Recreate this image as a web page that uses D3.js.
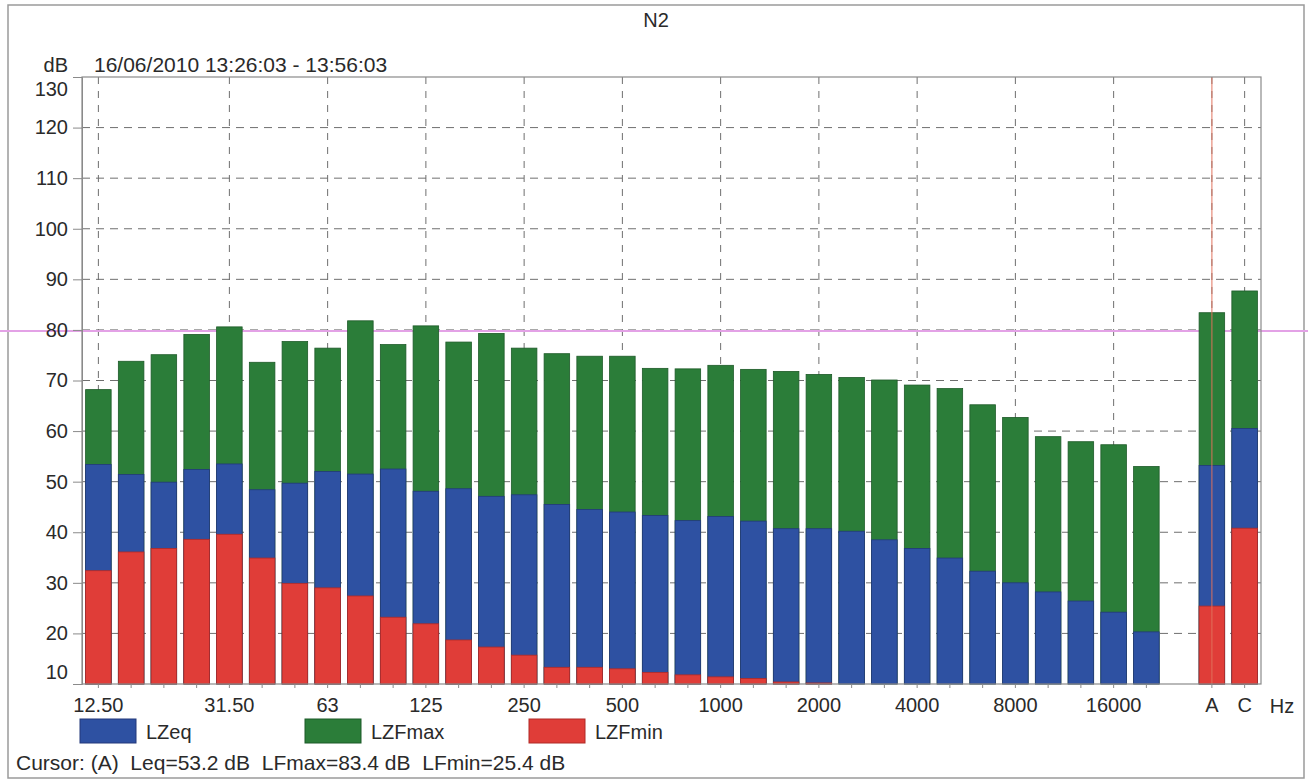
<!DOCTYPE html>
<html><head><meta charset="utf-8">
<script src="https://cdn.jsdelivr.net/npm/d3@7"></script>
<style>
html,body{margin:0;padding:0;background:#fff;}
svg{display:block;font-family:"Liberation Sans",Arial,Helvetica,sans-serif;}
</style></head><body>
<svg id="chart" width="1308" height="782"></svg>
<script>
// ---- data ----
const bands = ["12.5","16","20","25","31.5","40","50","63","80","100","125","160","200","250","315","400","500","630","800","1000","1250","1600","2000","2500","3150","4000","5000","6300","8000","10000","12500","16000","20000","","A","C"];
const lzfmax = [68.2,73.8,75.1,79.1,80.6,73.6,77.7,76.4,81.8,77.1,80.8,77.6,79.3,76.4,75.3,74.8,74.8,72.4,72.3,73.0,72.2,71.8,71.2,70.6,70.1,69.1,68.4,65.2,62.7,58.9,57.9,57.3,53.0,null,83.4,87.7];
const lzeq   = [53.4,51.4,49.9,52.4,53.5,48.4,49.7,52.0,51.5,52.5,48.1,48.6,47.1,47.4,45.5,44.5,44.0,43.3,42.3,43.1,42.2,40.7,40.7,40.2,38.5,36.8,34.9,32.3,30.0,28.2,26.4,24.2,20.3,null,53.2,60.5];
const lzfmin = [32.4,36.1,36.8,38.6,39.6,34.9,29.9,29.0,27.4,23.2,21.9,18.7,17.3,15.7,13.3,13.3,13.0,12.3,11.8,11.4,11.1,10.4,10.2,null,null,null,null,null,null,null,null,null,null,null,25.4,40.8];
const labeledBands = ["12.5","31.5","63","125","250","500","1000","2000","4000","8000","16000","A","C"];
const labelTexts   = ["12.50","31.50","63","125","250","500","1000","2000","4000","8000","16000","A","C"];
const yTicks = [10,20,30,40,50,60,70,80,90,100,110,120,130];
const seriesNames = ["LZeq","LZFmax","LZFmin"];
const seriesColors = ["#2e51a2","#2b7d39","#e03d38"];
const seriesStrokes = ["#22397a","#1d5a28","#b02a26"];
const refLevel = 80;
const cursorBand = "A";
const title = "N2";
const dateText = "16/06/2010 13:26:03 - 13:56:03";
const cursorText = "Cursor: (A)\u00a0\u00a0Leq=53.2 dB\u00a0\u00a0LFmax=83.4 dB\u00a0\u00a0LFmin=25.4 dB";

// ---- layout ----
const W = 1308, H = 782;
const L = 82, R = 1261, T = 77, B = 684;
const textColor = "#2a2a2a";
const svg = d3.select("#chart");

const x = d3.scaleBand().domain(bands).range([L, R]).paddingInner(0.22).paddingOuter(0.11);
const y = d3.scaleLinear().domain([10, 130]).range([B, T]);
const cx = b => x(b) + x.bandwidth() / 2;

// outer frame
svg.append("rect").attr("x", 8).attr("y", 5).attr("width", 1296).attr("height", 773)
  .attr("fill", "none").attr("stroke", "#9a9a9a").attr("stroke-width", 1.5);

// horizontal dashed grid
svg.append("g").selectAll("line").data(yTicks.filter(v => v > 10 && v < 130)).join("line")
  .attr("x1", L).attr("x2", R).attr("y1", d => y(d)).attr("y2", d => y(d))
  .attr("stroke", "#6f6f6f").attr("stroke-width", 1).attr("stroke-dasharray", "8,6");

// vertical dashed grid
svg.append("g").selectAll("line").data(labeledBands).join("line")
  .attr("x1", d => cx(d)).attr("x2", d => cx(d)).attr("y1", T).attr("y2", B)
  .attr("stroke", "#6f6f6f").attr("stroke-width", 1).attr("stroke-dasharray", "7,7");

// reference (pink) line across the page
svg.append("line").attr("x1", 0).attr("x2", W).attr("y1", y(refLevel) + 1).attr("y2", y(refLevel) + 1)
  .attr("stroke", "#e3a2e6").attr("stroke-width", 2);

// bars: max (green), eq (blue), min (red) overlaid from baseline
const layers = [
  {vals: lzfmax, fill: seriesColors[1], stroke: seriesStrokes[1]},
  {vals: lzeq,   fill: seriesColors[0], stroke: seriesStrokes[0]},
  {vals: lzfmin, fill: seriesColors[2], stroke: seriesStrokes[2]}
];
layers.forEach(layer => {
  const data = bands.map((b, i) => ({b, v: layer.vals[i]})).filter(d => d.v != null && d.v > 10);
  svg.append("g").selectAll("rect").data(data).join("rect")
    .attr("x", d => x(d.b)).attr("width", x.bandwidth())
    .attr("y", d => y(d.v)).attr("height", d => y(10) - y(d.v))
    .attr("fill", layer.fill).attr("stroke", layer.stroke).attr("stroke-width", 0.8);
});

// cursor line
svg.append("line").attr("x1", cx(cursorBand)).attr("x2", cx(cursorBand)).attr("y1", T).attr("y2", B)
  .attr("stroke", "#e2725c").attr("stroke-width", 1.3).attr("opacity", 0.75);

// plot frame
svg.append("rect").attr("x", L).attr("y", T).attr("width", R - L).attr("height", B - T)
  .attr("fill", "none").attr("stroke", "#8a8a8a").attr("stroke-width", 1.2);

// y axis
const yAxis = svg.append("g").attr("transform", `translate(${L},0)`)
  .call(d3.axisLeft(y).tickValues(yTicks).tickSize(9).tickPadding(5).tickFormat(d3.format("d")));
yAxis.select(".domain").attr("stroke", "#8a8a8a");
yAxis.selectAll(".tick line").attr("stroke", "#8a8a8a");
yAxis.selectAll(".tick text").attr("font-size", 20).attr("fill", textColor)
  .attr("font-family", "Liberation Sans, Arial, sans-serif")
  .attr("transform", d => d === 130 ? "translate(0,12)" : d === 10 ? "translate(0,-12)" : null);

// x axis
const labelMap = new Map(labeledBands.map((b, i) => [b, labelTexts[i]]));
const xAxis = svg.append("g").attr("transform", `translate(0,${B})`)
  .call(d3.axisBottom(x).tickValues(bands.filter(b => b !== "")).tickSize(4).tickPadding(10)
    .tickFormat(b => labelMap.get(b) || ""));
xAxis.select(".domain").remove();
xAxis.selectAll(".tick line").attr("stroke", "#8a8a8a");
xAxis.selectAll(".tick text").attr("font-size", 20).attr("fill", textColor)
  .attr("font-family", "Liberation Sans, Arial, sans-serif");

// texts
svg.append("text").attr("x", 1282).attr("y", 713).attr("text-anchor", "middle")
  .attr("font-size", 20).attr("fill", textColor).text("Hz");
svg.append("text").attr("x", 656).attr("y", 27).attr("text-anchor", "middle")
  .attr("font-size", 20).attr("fill", textColor).text(title);
svg.append("text").attr("x", 68).attr("y", 72).attr("text-anchor", "end")
  .attr("font-size", 20).attr("fill", textColor).text("dB");
svg.append("text").attr("x", 94).attr("y", 72)
  .attr("font-size", 21).attr("fill", textColor).text(dateText);

// legend
const legX = [80, 305, 529];
const leg = svg.append("g").selectAll("g").data(seriesNames).join("g")
  .attr("transform", (d, i) => `translate(${legX[i]},719)`);
leg.append("rect").attr("width", 56).attr("height", 24)
  .attr("fill", (d, i) => seriesColors[i]).attr("stroke", (d, i) => seriesStrokes[i]).attr("stroke-width", 1);
leg.append("text").attr("x", 66).attr("y", 20).attr("font-size", 20).attr("fill", textColor).text(d => d);

// cursor readout
svg.append("text").attr("x", 16).attr("y", 770).attr("font-size", 21).attr("fill", textColor)
  .text(cursorText);
</script>
</body></html>
